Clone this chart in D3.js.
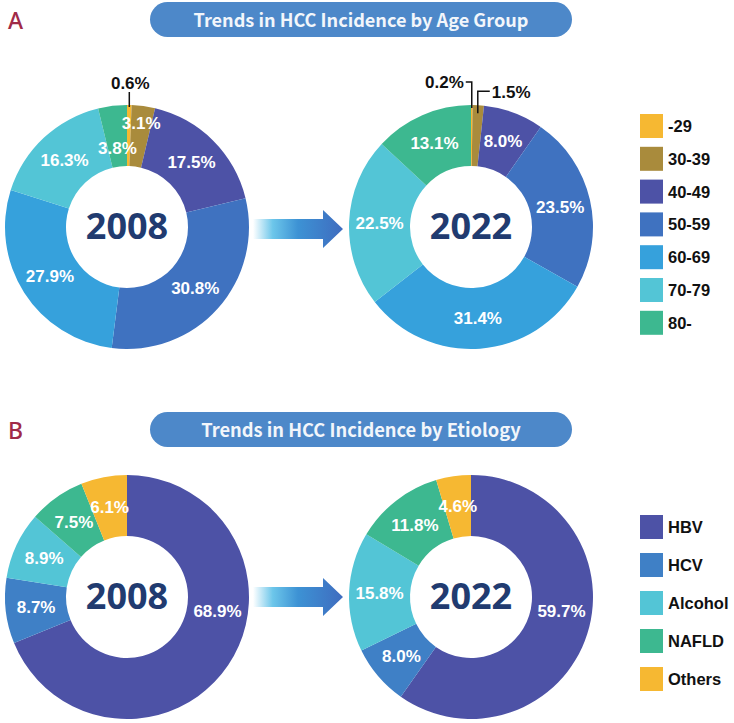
<!DOCTYPE html>
<html>
<head>
<meta charset="utf-8">
<script src="https://cdn.jsdelivr.net/npm/d3@7"></script>
<style>
  html, body { margin: 0; padding: 0; background: #ffffff; }
  svg { display: block; }
</style>
</head>
<body>
<div id="chart"></div>
<script>
// ---------------- DATA ----------------
const years = ["2008", "2022"];
const ageGroups = ["-29", "30-39", "40-49", "50-59", "60-69", "70-79", "80-"];
const age2008 = [0.6, 3.1, 17.5, 30.8, 27.9, 16.3, 3.8];
const age2022 = [0.2, 1.5, 8.0, 23.5, 31.4, 22.5, 13.1];
const etiologies = ["HBV", "HCV", "Alcohol", "NAFLD", "Others"];
const etio2008 = [68.9, 8.7, 8.9, 7.5, 6.1];
const etio2022 = [59.7, 8.0, 15.8, 11.8, 4.6];
const panelTitles = ["Trends in HCC Incidence by Age Group", "Trends in HCC Incidence by Etiology"];
const panelLetters = ["A", "B"];

// ---------------- STYLE ----------------
const ageColors = ["#f6b832", "#a98b3c", "#4d52a6", "#3f72c0", "#36a1dc", "#53c5d6", "#3db890"];
const etioColors = ["#4d52a6", "#3f80c6", "#53c5d6", "#3db890", "#f6b832"];

const W = 734, H = 723;
const svg = d3.select("#chart").append("svg").attr("width", W).attr("height", H);
svg.append("rect").attr("width", W).attr("height", H).attr("fill", "#ffffff");

const defs = svg.append("defs");
const grad = defs.append("linearGradient").attr("id", "arrowGrad")
  .attr("x1", "0%").attr("x2", "100%").attr("y1", "0%").attr("y2", "0%");
grad.append("stop").attr("offset", "0%").attr("stop-color", "#ffffff");
grad.append("stop").attr("offset", "22%").attr("stop-color", "#6cc6ea");
grad.append("stop").attr("offset", "50%").attr("stop-color", "#3d92d4");
grad.append("stop").attr("offset", "100%").attr("stop-color", "#3f6cbf");

const R = 122, r0 = 61;
const arc = d3.arc().innerRadius(r0).outerRadius(R);
const pie = d3.pie().sort(null).value(d => d.value);

const labelFont = "'Liberation Sans', Arial, sans-serif";

function fitText(sel, targetWidth) {
  const node = sel.node();
  const fs = parseFloat(sel.attr("font-size"));
  const w = node.getComputedTextLength();
  sel.attr("font-size", (fs * targetWidth / w).toFixed(2));
}

// panel header
function header(i, y0) {
  const g = svg.append("g");
  g.append("text").attr("x", 8).attr("y", y0 + 28)
    .attr("font-family", "'Noto Sans', sans-serif").attr("font-weight", 500)
    .attr("font-size", 23).attr("fill", "#a02a48").text(panelLetters[i]);
  g.append("rect").attr("x", 150).attr("y", y0 + 1).attr("width", 422).attr("height", 35)
    .attr("rx", 17.5).attr("fill", "#4d88c9");
  const t = g.append("text").attr("x", 361).attr("y", y0 + 25.5)
    .attr("text-anchor", "middle")
    .attr("font-family", "'Noto Sans CJK KR', 'Noto Sans', sans-serif").attr("font-weight", 700)
    .attr("font-size", 20).attr("fill", "#f2f6fb").text(panelTitles[i]);
  fitText(t, i === 0 ? 335 : 320);
}

// arrow between donuts
function arrow(cy) {
  const p = d3.path();
  p.moveTo(253, cy - 10); p.lineTo(323, cy - 10); p.lineTo(323, cy - 19);
  p.lineTo(343, cy); p.lineTo(323, cy + 19); p.lineTo(323, cy + 10);
  p.lineTo(253, cy + 10); p.closePath();
  svg.append("path").attr("d", p.toString()).attr("fill", "url(#arrowGrad)");
}

const labelRadiusOverride = { "2008|30-39": 105, "2008|80-": 80 };

function donut(cx, cy, names, values, colors, year) {
  const data = names.map((n, i) => ({ name: n, value: values[i], color: colors[i] }));
  const arcs = pie(data);
  const g = svg.append("g").attr("transform", `translate(${cx},${cy})`);
  g.selectAll("path.slice").data(arcs).join("path").attr("class", "slice")
    .attr("d", arc).attr("fill", d => d.data.color);

  // inner labels (slices large enough to hold text)
  arcs.forEach(d => {
    if (d.data.value < 2) return;
    let a = (d.startAngle + d.endAngle) / 2;
    let rr = (R + r0) / 2;
    const key = year + "|" + d.data.name;
    if (labelRadiusOverride[key]) rr = labelRadiusOverride[key];
    if (d.data.value > 50) a = 98.5 * Math.PI / 180;
    const x = rr * Math.sin(a), y = -rr * Math.cos(a);
    g.append("text").attr("x", x).attr("y", y + 6)
      .attr("text-anchor", "middle").attr("font-family", labelFont)
      .attr("font-weight", 700).attr("font-size", 17).attr("fill", "#ffffff")
      .text(d.data.value.toFixed(1) + "%");
  });

  // callouts for tiny slices
  const tiny = arcs.filter(d => d.data.value < 1);
  const tinyNext = arcs.filter(d => d.data.value >= 1 && d.data.value < 2);
  tiny.forEach(d => {
    const a = (d.startAngle + d.endAngle) / 2;
    const px = R * Math.sin(a), py = -R * Math.cos(a);
    if (tinyNext.length === 0) {
      g.append("line").attr("x1", px).attr("x2", px).attr("y1", py + 2).attr("y2", py - 13)
        .attr("stroke", "#111").attr("stroke-width", 1.5);
      g.append("text").attr("x", px + 1).attr("y", py - 16).attr("text-anchor", "middle")
        .attr("font-family", labelFont).attr("font-weight", 700).attr("font-size", 17)
        .attr("fill", "#111").text(d.data.value.toFixed(1) + "%");
    } else {
      g.append("path").attr("d", `M${px},${py + 3}V${py - 23}H${px - 6}`)
        .attr("fill", "none").attr("stroke", "#111").attr("stroke-width", 1.5);
      g.append("text").attr("x", px - 8).attr("y", py - 17).attr("text-anchor", "end")
        .attr("font-family", labelFont).attr("font-weight", 700).attr("font-size", 17)
        .attr("fill", "#111").text(d.data.value.toFixed(1) + "%");
    }
  });
  tinyNext.forEach(d => {
    const a = (d.startAngle + d.endAngle) / 2;
    const rr = R - 8;
    const px = rr * Math.sin(a), py = -rr * Math.cos(a);
    g.append("path").attr("d", `M${px},${py}V${py - 22}H${px + 12}`)
      .attr("fill", "none").attr("stroke", "#111").attr("stroke-width", 1.5);
    g.append("text").attr("x", px + 14).attr("y", py - 15).attr("text-anchor", "start")
      .attr("font-family", labelFont).attr("font-weight", 700).attr("font-size", 17)
      .attr("fill", "#111").text(d.data.value.toFixed(1) + "%");
  });

  // year in the hole
  g.append("text").attr("x", 0).attr("y", 12).attr("text-anchor", "middle")
    .attr("font-family", "'Open Sans', sans-serif").attr("font-weight", 700)
    .attr("font-size", 36).attr("fill", "#213b70").text(year);
}

function legend(x, y0, step, names, colors) {
  const g = svg.append("g");
  names.forEach((n, i) => {
    const y = y0 + i * step;
    g.append("rect").attr("x", x).attr("y", y).attr("width", 23).attr("height", 24)
      .attr("fill", colors[i]);
    g.append("text").attr("x", x + 28).attr("y", y + 18)
      .attr("font-family", labelFont).attr("font-weight", 700).attr("font-size", 16.5)
      .attr("fill", "#111").text(n);
  });
}

// Panel A
header(0, 1);
donut(127, 227, ageGroups, age2008, ageColors, years[0]);
donut(471, 227, ageGroups, age2022, ageColors, years[1]);
arrow(229);
legend(640, 114, 32.8, ageGroups, ageColors);

// Panel B
header(1, 411);
donut(127, 597, etiologies, etio2008, etioColors, years[0]);
donut(471, 597, etiologies, etio2022, etioColors, years[1]);
arrow(597);
legend(640, 515, 38, etiologies, etioColors);
</script>
</body>
</html>
